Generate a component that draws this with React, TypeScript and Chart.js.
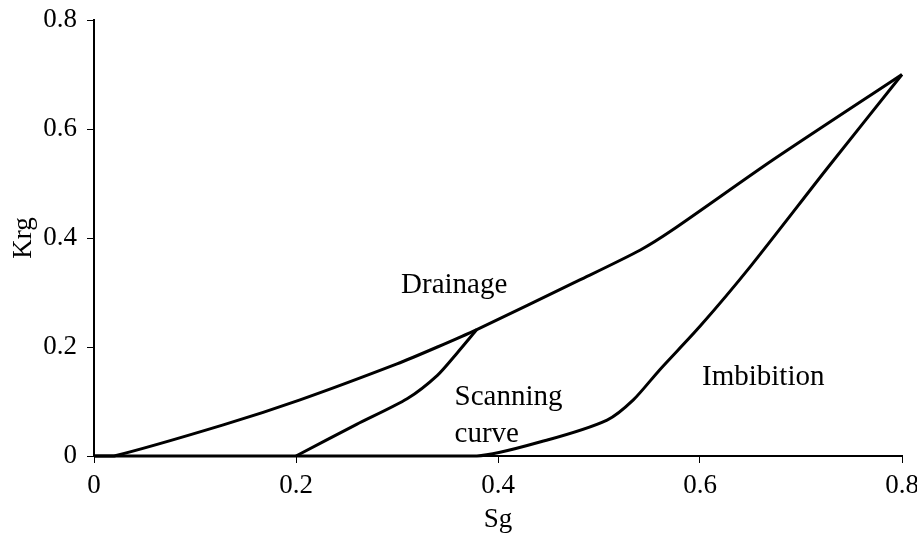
import React, { useEffect, useRef } from "react";
import { Chart, registerables } from "chart.js";

Chart.register(...registerables);

// Drainage curve (Sg, Krg)
const drainageSg = [0, 0.02, 0.128, 0.204, 0.3, 0.34, 0.379, 0.481, 0.541, 0.573, 0.672, 0.8];
const drainageKrg = [0, 0, 0.057, 0.103, 0.169, 0.2, 0.232, 0.323, 0.378, 0.415, 0.543, 0.7];

// Scanning curve
const scanningSg = [0.2, 0.26, 0.31, 0.34, 0.36, 0.379];
const scanningKrg = [0, 0.058, 0.105, 0.148, 0.19, 0.232];

// Imbibition curve
const imbibitionSg = [0, 0.379, 0.448, 0.508, 0.534, 0.56, 0.6, 0.65, 0.726, 0.8];
const imbibitionKrg = [0, 0, 0.029, 0.066, 0.103, 0.158, 0.238, 0.348, 0.528, 0.7];

// Axis ticks
const xTicks = [0, 0.2, 0.4, 0.6, 0.8];
const yTicks = [0, 0.2, 0.4, 0.6, 0.8];

// Annotations
const noteTexts = ["Drainage", "Scanning", "curve", "Imbibition"];
const noteSg = [0.304, 0.357, 0.357, 0.602];
const noteKrg = [0.299, 0.094, 0.026, 0.13];

const FONT = '"Liberation Serif", "Times New Roman", serif';

const zip = (xs: number[], ys: number[]) => xs.map((x, i) => ({ x, y: ys[i] }));

export default function App() {
  const ref = useRef<HTMLCanvasElement | null>(null);
  useEffect(() => {
    if (!ref.current) return;
    const notes = {
      id: "notes",
      afterDatasetsDraw(chart: any) {
        const ctx = chart.ctx;
        const xs = chart.scales.x;
        const ys = chart.scales.y;
        ctx.save();
        ctx.fillStyle = "#000";
        ctx.font = `29px ${FONT}`;
        ctx.textAlign = "left";
        ctx.textBaseline = "alphabetic";
        noteTexts.forEach((t, i) => {
          ctx.fillText(t, xs.getPixelForValue(noteSg[i]), ys.getPixelForValue(noteKrg[i]));
        });
        ctx.restore();
      },
    };
    const ds = (xs: number[], ys: number[]) => ({
      data: zip(xs, ys),
      showLine: true,
      borderColor: "#000",
      backgroundColor: "#000",
      borderWidth: 3,
      pointRadius: 0,
      tension: 0.25,
      clip: false as const,
    });
    const chart = new Chart(ref.current, {
      type: "scatter",
      data: {
        datasets: [
          ds(drainageSg, drainageKrg),
          ds(scanningSg, scanningKrg),
          ds(imbibitionSg, imbibitionKrg),
        ],
      },
      options: {
        responsive: false,
        animation: false,
        layout: { padding: { left: 0, right: 15, top: 20, bottom: 0 } },
        plugins: { legend: { display: false }, tooltip: { enabled: false } },
        scales: {
          x: {
            type: "linear",
            min: 0,
            max: 0.8,
            afterBuildTicks: (s: any) => {
              s.ticks = xTicks.map((v) => ({ value: v }));
            },
            afterFit: (s: any) => {
              s.height = 80;
              s.paddingLeft = 0;
              s.paddingRight = 0;
            },
            ticks: {
              color: "#000",
              font: { family: FONT, size: 27 },
              padding: 7,
              maxRotation: 0,
              callback: (v: any) => String(Math.round(Number(v) * 10) / 10),
            },
            grid: { drawOnChartArea: false, drawTicks: true, tickLength: 7, color: "#000", lineWidth: 1 },
            border: { display: true, color: "#000", width: 2 },
            title: {
              display: true,
              text: "Sg",
              color: "#000",
              font: { family: FONT, size: 27 },
              padding: { top: 0, bottom: 0 },
            },
          },
          y: {
            type: "linear",
            min: 0,
            max: 0.8,
            afterBuildTicks: (s: any) => {
              s.ticks = yTicks.map((v) => ({ value: v }));
            },
            afterFit: (s: any) => {
              s.width = 94;
              s.paddingTop = 0;
              s.paddingBottom = 0;
            },
            ticks: {
              color: "#000",
              font: { family: FONT, size: 27 },
              padding: 10,
              callback: (v: any) => String(Math.round(Number(v) * 10) / 10),
            },
            grid: { drawOnChartArea: false, drawTicks: true, tickLength: 7, color: "#000", lineWidth: 1 },
            border: { display: true, color: "#000", width: 2 },
            title: {
              display: true,
              text: "Krg",
              color: "#000",
              font: { family: FONT, size: 27 },
              padding: { top: 8, bottom: 0 },
            },
          },
        },
      },
      plugins: [notes],
    });
    return () => chart.destroy();
  }, []);
  return (
    <div style={{ position: "absolute", left: 0, top: 0, width: 917, height: 536, background: "#fff" }}>
      <canvas ref={ref} width={917} height={536} />
    </div>
  );
}
